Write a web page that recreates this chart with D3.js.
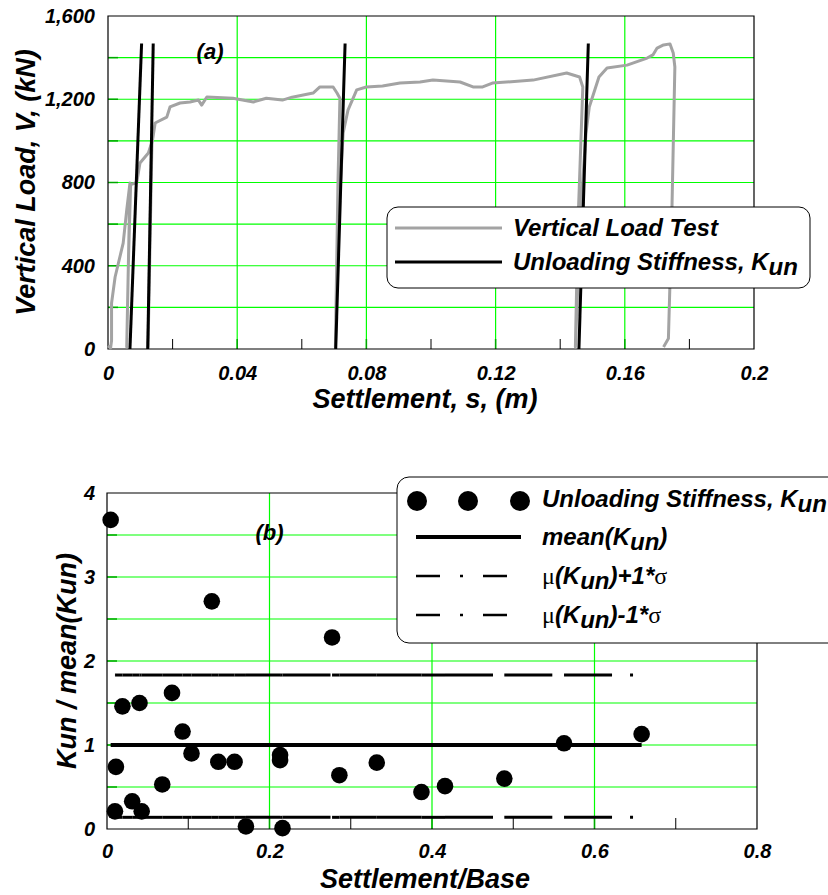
<!DOCTYPE html>
<html>
<head>
<meta charset="utf-8">
<script src="https://cdn.jsdelivr.net/npm/d3@7"></script>
<style>
body { margin:0; background:#fff; }
svg text { font-family: "Liberation Sans", Arial, sans-serif; font-weight: bold; font-style: italic; fill: #000; }
</style>
</head>
<body>
<div id="chart"></div>
<script>

// ---- (a) vertical load test
var loadS = [0.0000, 0.0008, 0.0011, 0.0011, 0.0022, 0.0047, 0.0058, 0.0068, 0.0058, 0.0063, 0.0070, 0.0089,
	0.0099, 0.0125, 0.0135, 0.0124, 0.0136, 0.0146, 0.0182, 0.0192, 0.0223, 0.0254, 0.0280, 0.0290, 0.0306,
	0.0387, 0.0450, 0.0490, 0.0540, 0.0570, 0.0635, 0.0656, 0.0697, 0.0709, 0.0718, 0.0712, 0.0704, 0.0710,
	0.0728, 0.0743, 0.0770, 0.0800, 0.0850, 0.0904, 0.0966, 0.1006, 0.1090, 0.1130, 0.1160, 0.1190, 0.1316,
	0.1420, 0.1460, 0.1470, 0.1455, 0.1447, 0.1465, 0.1480, 0.1490, 0.1520, 0.1545, 0.1607, 0.1669, 0.1687,
	0.1700, 0.1720, 0.1740, 0.1750, 0.1755, 0.1745, 0.1735, 0.1720];
var loadV = [15, 5, 40, 220, 346, 509, 668, 798, 10, 400, 790, 800,
	894, 942, 990, 10, 985, 1086, 1114, 1163, 1182, 1187, 1196, 1172, 1211,
	1205, 1187, 1205, 1196, 1210, 1230, 1259, 1259, 1230, 1205, 800, 10, 500,
	1038, 1148, 1245, 1259, 1264, 1278, 1283, 1292, 1283, 1259, 1259, 1278, 1292,
	1326, 1307, 1259, 600, 10, 700, 1038, 1163, 1307, 1350, 1364, 1398, 1413,
	1446, 1461, 1466, 1422, 1355, 600, 50, 10];

// unloading stiffness lines: settlement at V=0 and at V=unloadTop
var unloadS0 = [0.0068, 0.0123, 0.0705, 0.1458];
var unloadS1 = [0.0104, 0.0140, 0.0734, 0.1487];
var unloadTop = 1468;

var sTicks = [0, 0.04, 0.08, 0.12, 0.16, 0.2];
var sMinor = [0.02, 0.06, 0.10, 0.14, 0.18];
var vTicks = [0, 400, 800, 1200, 1600];
var vGrid = [200, 400, 600, 800, 1000, 1200, 1400];

// ---- (b) normalised unloading stiffness
var ratioX = [0.0045, 0.011, 0.0098, 0.019, 0.031, 0.040, 0.0427, 0.068, 0.080, 0.093, 0.104, 0.129, 0.137,
	0.157, 0.171, 0.213, 0.213, 0.216, 0.277, 0.286, 0.332, 0.387, 0.416, 0.489, 0.5625, 0.658];
var ratioY = [3.68, 0.74, 0.21, 1.46, 0.33, 1.50, 0.21, 0.53, 1.62, 1.16, 0.90, 2.71, 0.80,
	0.80, 0.03, 0.88, 0.82, 0.01, 2.28, 0.64, 0.79, 0.44, 0.51, 0.60, 1.02, 1.13];
var kMean = 1.0;
var kPlus = 1.833;
var kMinus = 0.139;

var bTicksX = [0, 0.2, 0.4, 0.6, 0.8];
var bMinorX = [0.1, 0.3, 0.5, 0.7];
var bGridX = [0.2, 0.4, 0.6];
var bTicksY = [0, 1, 2, 3, 4];
var bGridY = [0.5, 1, 1.5, 2, 2.5, 3, 3.5];

var green = '#00ff00';
var darkGreen = '#00a800';

var svg = d3.select('#chart')
	.append('svg')
	.attr('width', 828)
	.attr('height', 895);

// ================= chart (a)
var xa = d3.scaleLinear().domain([0, 0.2]).range([108, 754]);
var ya = d3.scaleLinear().domain([0, 1600]).range([349, 16]);

var ga = svg.append('g');

ga.selectAll('.hgrid').data(vGrid).enter().append('line')
	.attr('x1', xa(0)).attr('x2', xa(0.2))
	.attr('y1', d => ya(d)).attr('y2', d => ya(d))
	.attr('stroke', green).attr('stroke-width', 1.2);
ga.selectAll('.hstub').data(vGrid).enter().append('line')
	.attr('x1', xa(0)).attr('x2', xa(0) + 10)
	.attr('y1', d => ya(d)).attr('y2', d => ya(d))
	.attr('stroke', darkGreen).attr('stroke-width', 1.5);
ga.selectAll('.vgrid').data(sTicks.slice(1, 5)).enter().append('line')
	.attr('x1', d => xa(d)).attr('x2', d => xa(d))
	.attr('y1', ya(0)).attr('y2', ya(1600))
	.attr('stroke', green).attr('stroke-width', 1.2);
ga.selectAll('.vstub').data(sTicks.slice(1, 5)).enter().append('line')
	.attr('x1', d => xa(d)).attr('x2', d => xa(d))
	.attr('y1', ya(0)).attr('y2', ya(0) - 10)
	.attr('stroke', darkGreen).attr('stroke-width', 1.5);
ga.selectAll('.minor').data(sMinor).enter().append('line')
	.attr('x1', d => xa(d)).attr('x2', d => xa(d))
	.attr('y1', ya(0)).attr('y2', ya(0) - 10)
	.attr('stroke', '#000').attr('stroke-width', 1);

// frame
ga.append('path')
	.attr('d', 'M' + xa(0) + ',' + ya(0) + 'V' + ya(1600) + 'H' + xa(0.2) + 'V' + ya(0) + 'Z')
	.attr('fill', 'none').attr('stroke', '#000').attr('stroke-width', 1.2);

var lineA = d3.line().x(d => xa(d[0])).y(d => ya(d[1]));

ga.append('path')
	.datum(d3.zip(loadS, loadV))
	.attr('d', lineA)
	.attr('fill', 'none')
	.attr('stroke', '#a3a3a3')
	.attr('stroke-width', 3)
	.attr('stroke-linejoin', 'round');

ga.selectAll('.unload').data(d3.zip(unloadS0, unloadS1)).enter().append('line')
	.attr('x1', d => xa(d[0])).attr('y1', ya(0))
	.attr('x2', d => xa(d[1])).attr('y2', ya(unloadTop))
	.attr('stroke', '#000').attr('stroke-width', 3);

ga.append('g')
	.attr('transform', 'translate(0,' + ya(0) + ')')
	.call(d3.axisBottom(xa).tickValues(sTicks).tickSize(0).tickPadding(17).tickFormat(d => String(d)))
	.call(g => g.select('.domain').remove())
	.selectAll('text').attr('font-size', 20).style('font-family', null);

ga.append('g')
	.attr('transform', 'translate(' + xa(0) + ',0)')
	.call(d3.axisLeft(ya).tickValues(vTicks).tickSize(0).tickPadding(13).tickFormat(d3.format(',')))
	.call(g => g.select('.domain').remove())
	.selectAll('text').attr('font-size', 20).style('font-family', null);

ga.append('text')
	.attr('x', (xa(0) + xa(0.2)) / 2 - 6).attr('y', 408)
	.attr('text-anchor', 'middle').attr('font-size', 27)
	.text('Settlement, s, (m)');

ga.append('text')
	.attr('transform', 'translate(35,' + (ya(0) + ya(1600)) / 2 + ') rotate(-90)')
	.attr('text-anchor', 'middle').attr('font-size', 27)
	.text('Vertical Load, V, (kN)');

ga.append('text')
	.attr('x', xa(0.0316)).attr('y', ya(1393))
	.attr('text-anchor', 'middle').attr('font-size', 22)
	.text('(a)');

// legend (a)
var legA = ga.append('g').attr('transform', 'translate(387,207)');
legA.append('rect').attr('width', 423).attr('height', 81).attr('rx', 11)
	.attr('fill', '#fff').attr('stroke', '#000').attr('stroke-width', 1);
legA.append('line').attr('x1', 8).attr('x2', 115).attr('y1', 21).attr('y2', 21)
	.attr('stroke', '#a3a3a3').attr('stroke-width', 3);
legA.append('line').attr('x1', 8).attr('x2', 115).attr('y1', 55).attr('y2', 55)
	.attr('stroke', '#000').attr('stroke-width', 3);
legA.append('text').attr('x', 126).attr('y', 29).attr('font-size', 24).text('Vertical Load Test');
var ta2 = legA.append('text').attr('x', 126).attr('y', 63).attr('font-size', 24);
ta2.append('tspan').text('Unloading Stiffness, K');
ta2.append('tspan').attr('dy', 5).text('un');

// ================= chart (b)
var xb = d3.scaleLinear().domain([0, 0.8]).range([107, 757]);
var yb = d3.scaleLinear().domain([0, 4]).range([829, 493]);

var gb = svg.append('g');

gb.selectAll('.hgrid').data(bGridY).enter().append('line')
	.attr('x1', xb(0)).attr('x2', xb(0.8))
	.attr('y1', d => yb(d)).attr('y2', d => yb(d))
	.attr('stroke', green).attr('stroke-width', 1.2);
gb.selectAll('.hstub').data(bGridY).enter().append('line')
	.attr('x1', xb(0)).attr('x2', xb(0) + 10)
	.attr('y1', d => yb(d)).attr('y2', d => yb(d))
	.attr('stroke', darkGreen).attr('stroke-width', 1.5);
gb.selectAll('.vgrid').data(bGridX).enter().append('line')
	.attr('x1', d => xb(d)).attr('x2', d => xb(d))
	.attr('y1', yb(0)).attr('y2', yb(4))
	.attr('stroke', green).attr('stroke-width', 1.2);
gb.selectAll('.vstub').data(bGridX).enter().append('line')
	.attr('x1', d => xb(d)).attr('x2', d => xb(d))
	.attr('y1', yb(0)).attr('y2', yb(0) - 11)
	.attr('stroke', darkGreen).attr('stroke-width', 1.5);
gb.selectAll('.minor').data(bMinorX).enter().append('line')
	.attr('x1', d => xb(d)).attr('x2', d => xb(d))
	.attr('y1', yb(0)).attr('y2', yb(0) - 11)
	.attr('stroke', '#000').attr('stroke-width', 1);

gb.append('path')
	.attr('d', 'M' + xb(0) + ',' + yb(0) + 'V' + yb(4) + 'H' + xb(0.8) + 'V' + yb(0) + 'Z')
	.attr('fill', 'none').attr('stroke', '#000').attr('stroke-width', 1.2);

// mean and +/- sigma lines span the data range
var xsSorted = ratioX.slice().sort(d3.ascending);
var xSpan = d3.extent(ratioX);

gb.append('line')
	.attr('x1', xb(xSpan[0])).attr('x2', xb(xSpan[1]))
	.attr('y1', yb(kMean)).attr('y2', yb(kMean))
	.attr('stroke', '#000').attr('stroke-width', 4);

[kPlus, kMinus].forEach(function (k) {
	gb.selectAll(null).data(d3.pairs(xsSorted.slice(1))).enter().append('line')
		.attr('x1', d => xb(d[0])).attr('x2', d => xb(d[1]))
		.attr('y1', yb(k)).attr('y2', yb(k))
		.attr('stroke', '#000').attr('stroke-width', 3)
		.attr('stroke-dasharray', '48,18,3,18');
});

gb.selectAll('.pt').data(d3.zip(ratioX, ratioY)).enter().append('circle')
	.attr('cx', d => xb(d[0])).attr('cy', d => yb(d[1]))
	.attr('r', 8.3).attr('fill', '#000');

gb.append('g')
	.attr('transform', 'translate(0,' + yb(0) + ')')
	.call(d3.axisBottom(xb).tickValues(bTicksX).tickSize(0).tickPadding(15).tickFormat(d => String(d)))
	.call(g => g.select('.domain').remove())
	.selectAll('text').attr('font-size', 20).style('font-family', null);

gb.append('g')
	.attr('transform', 'translate(' + xb(0) + ',0)')
	.call(d3.axisLeft(yb).tickValues(bTicksY).tickSize(0).tickPadding(12).tickFormat(d => String(d)))
	.call(g => g.select('.domain').remove())
	.selectAll('text').attr('font-size', 20).style('font-family', null);

gb.append('text')
	.attr('x', (xb(0) + xb(0.8)) / 2 - 7).attr('y', 888)
	.attr('text-anchor', 'middle').attr('font-size', 27)
	.text('Settlement/Base');

gb.append('text')
	.attr('transform', 'translate(76,' + (yb(0) + yb(4)) / 2 + ') rotate(-90)')
	.attr('text-anchor', 'middle').attr('font-size', 27)
	.text('Kun / mean(Kun)');

gb.append('text')
	.attr('x', xb(0.2)).attr('y', yb(3.44))
	.attr('text-anchor', 'middle').attr('font-size', 22)
	.text('(b)');

// legend (b)
var legB = gb.append('g').attr('transform', 'translate(397,477)');
legB.append('rect').attr('width', 445).attr('height', 166).attr('rx', 12)
	.attr('fill', '#fff').attr('stroke', '#000').attr('stroke-width', 1);
legB.selectAll('.ldot').data([20, 71, 123]).enter().append('circle')
	.attr('cx', d => d).attr('cy', 24).attr('r', 10).attr('fill', '#000');
legB.append('line').attr('x1', 19).attr('x2', 124).attr('y1', 60).attr('y2', 60)
	.attr('stroke', '#000').attr('stroke-width', 4);
[99, 138].forEach(function (yy) {
	legB.append('line').attr('x1', 19).attr('x2', 124).attr('y1', yy).attr('y2', yy)
		.attr('stroke', '#000').attr('stroke-width', 2.5)
		.attr('stroke-dasharray', '24,20,3,20');
});

var tb1 = legB.append('text').attr('x', 145).attr('y', 30).attr('font-size', 24);
tb1.append('tspan').text('Unloading Stiffness, K');
tb1.append('tspan').attr('dy', 5).text('un');

var tb2 = legB.append('text').attr('x', 145).attr('y', 68).attr('font-size', 24);
tb2.append('tspan').text('mean(K');
tb2.append('tspan').attr('dy', 5).text('un');
tb2.append('tspan').attr('dy', -5).text(')');

['+1*', '-1*'].forEach(function (s, i) {
	var t = legB.append('text').attr('x', 145).attr('y', 107 + i * 39).attr('font-size', 24);
	t.append('tspan').style('font-family', '"Liberation Serif", serif').style('font-style', 'normal').style('font-weight', 'normal').text('\u03bc');
	t.append('tspan').text('(K');
	t.append('tspan').attr('dy', 5).text('un');
	t.append('tspan').attr('dy', -5).text(')' + s);
	t.append('tspan').style('font-family', '"Liberation Serif", serif').style('font-style', 'normal').style('font-weight', 'normal').text('\u03c3');
});

</script>
</body>
</html>
